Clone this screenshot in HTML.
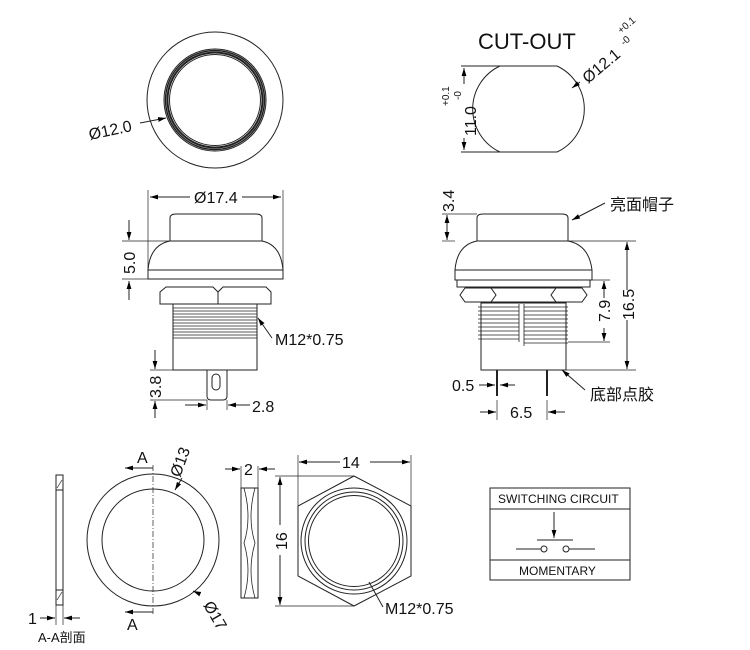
<!DOCTYPE html>
<html><head><meta charset="utf-8"><style>
html,body{margin:0;padding:0;background:#fff;}
svg{display:block;font-family:"Liberation Sans","Noto Sans CJK SC",sans-serif;}
</style></head><body>
<svg width="750" height="650" viewBox="0 0 750 650" xmlns="http://www.w3.org/2000/svg">
<defs>
<marker id="a" viewBox="0 0 10 10" refX="10" refY="5" markerWidth="8" markerHeight="8" orient="auto-start-reverse"><path d="M0,2 L10,5 L0,8 z" fill="#000"/></marker>
</defs>
<g fill="none" stroke="#222" stroke-width="1">
<circle cx="215" cy="100" r="68"/>
<circle cx="215" cy="100" r="51"/>
<circle cx="215" cy="100" r="49.5" stroke-width="1.5"/>
<circle cx="215" cy="100" r="47.5" stroke-width="2"/>
<circle cx="215" cy="100" r="45.5"/>
<line x1="140" y1="123" x2="166" y2="118" marker-end="url(#a)"/>

<path d="M500,66 L557,66 A47.5,47.5 0 0 1 557,152 L500,152 A47.5,47.5 0 0 1 500,66 Z"/>
<line x1="461" y1="66" x2="500" y2="66"/><line x1="461" y1="152" x2="500" y2="152"/>
<line x1="464" y1="68" x2="464" y2="84" marker-start="url(#a)"/>
<line x1="464" y1="138" x2="464" y2="150" marker-end="url(#a)"/>
<line x1="580" y1="82" x2="572" y2="88" marker-end="url(#a)"/>

<path d="M170,241 L170,218 Q170,214 176,214 L256,214 Q262,214 262,218 L262,241"/>
<path d="M148,270 Q150,245 170,241 L262,241 Q281,245 283,270 Z"/>
<rect x="148" y="270" width="135" height="9"/>
<path d="M160,304 L160,292 L166,287 L213,287 L218,292 L223,287 L266,287 L271,292 L271,304 Z"/>
<line x1="218" y1="292" x2="218" y2="304"/>
<rect x="173" y="304" width="84" height="66"/>
<g stroke-width="0.8">
<line x1="173" y1="308" x2="257" y2="308"/><line x1="173" y1="311" x2="257" y2="311"/><line x1="173" y1="314" x2="257" y2="314"/><line x1="173" y1="317" x2="257" y2="317"/><line x1="173" y1="320" x2="257" y2="320"/><line x1="173" y1="323" x2="257" y2="323"/><line x1="173" y1="326" x2="257" y2="326"/><line x1="173" y1="329" x2="257" y2="329"/><line x1="173" y1="332" x2="257" y2="332"/><line x1="173" y1="335" x2="257" y2="335"/><line x1="173" y1="338" x2="257" y2="338"/>
</g>
<path d="M207,370 L207,396 Q207,400 211,400 L223,400 Q227,400 227,396 L227,370"/>
<rect x="212" y="374" width="8" height="16" rx="4"/>
<line x1="148" y1="190" x2="148" y2="270" stroke-width="0.7"/><line x1="283" y1="190" x2="283" y2="270" stroke-width="0.7"/>
<line x1="150" y1="197" x2="190" y2="197" marker-start="url(#a)"/><line x1="242" y1="197" x2="281" y2="197" marker-end="url(#a)"/>
<line x1="122" y1="241" x2="170" y2="241" stroke-width="0.7"/><line x1="122" y1="279" x2="148" y2="279" stroke-width="0.7"/>
<line x1="129" y1="220" x2="129" y2="240" marker-end="url(#a)"/><line x1="129" y1="300" x2="129" y2="281" marker-end="url(#a)"/>
<line x1="150" y1="370" x2="207" y2="370" stroke-width="0.7"/><line x1="150" y1="400" x2="207" y2="400" stroke-width="0.7"/>
<line x1="155" y1="350" x2="155" y2="369" marker-end="url(#a)"/><line x1="155" y1="418" x2="155" y2="401" marker-end="url(#a)"/>
<line x1="207" y1="400" x2="207" y2="410" stroke-width="0.7"/><line x1="227" y1="400" x2="227" y2="410" stroke-width="0.7"/>
<line x1="185" y1="405" x2="206" y2="405" marker-end="url(#a)"/><line x1="250" y1="405" x2="228" y2="405" marker-end="url(#a)"/>
<line x1="272" y1="338" x2="258" y2="318" marker-end="url(#a)"/>

<path d="M477,241 L477,218 Q477,214 483,214 L562,214 Q568,214 568,218 L568,241"/>
<path d="M455,270 Q457,245 477,241 L568,241 Q589,245 592,270 Z"/>
<rect x="455" y="270" width="137" height="10"/>
<rect x="457" y="280" width="133" height="7"/>
<path d="M460,295 L465,288 L491,288 L496,295 L491,302 L465,302 Z M496,295 L491,288 L556,288 L551,295 L556,302 L491,302 M551,295 L556,288 L582,288 L587,295 L582,302 L556,302"/>
<rect x="481" y="303" width="85" height="67"/>
<g stroke-width="0.8">
<path d="M478,307 H519 M478,311 H519 M478,315 H519 M478,319 H519 M478,323 H519 M478,327 H519 M478,331 H519 M478,335 H519 M478,339 H519"/>
<path d="M524,307 H568 M524,311 H568 M524,315 H568 M524,319 H568 M524,323 H568 M524,327 H568 M524,331 H568 M524,335 H568 M524,339 H568 M524,343 H568"/>
<line x1="519" y1="304" x2="519" y2="342"/><line x1="524" y1="304" x2="524" y2="346"/>
</g>
<line x1="497" y1="370" x2="497" y2="396" stroke-width="2"/><line x1="547" y1="370" x2="547" y2="396" stroke-width="2"/>
<line x1="442" y1="214" x2="477" y2="214" stroke-width="0.7"/><line x1="442" y1="241" x2="455" y2="241" stroke-width="0.7"/>
<line x1="447" y1="215" x2="447" y2="240" marker-start="url(#a)" marker-end="url(#a)"/>
<line x1="568" y1="241" x2="636" y2="241" stroke-width="0.7"/><line x1="566" y1="370" x2="636" y2="370" stroke-width="0.7"/>
<line x1="627" y1="290" x2="627" y2="242" marker-end="url(#a)"/><line x1="627" y1="320" x2="627" y2="369" marker-end="url(#a)"/>
<line x1="580" y1="280" x2="610" y2="280" stroke-width="0.7"/><line x1="568" y1="342" x2="610" y2="342" stroke-width="0.7"/>
<line x1="604" y1="298" x2="604" y2="281" marker-end="url(#a)"/><line x1="604" y1="328" x2="604" y2="341" marker-end="url(#a)"/>
<line x1="497" y1="400" x2="497" y2="420" stroke-width="0.7"/><line x1="547" y1="400" x2="547" y2="420" stroke-width="0.7"/>
<line x1="479" y1="385" x2="495" y2="385" marker-end="url(#a)"/><line x1="515" y1="385" x2="500" y2="385" marker-end="url(#a)"/>
<line x1="480" y1="412" x2="496" y2="412" marker-end="url(#a)"/><line x1="565" y1="412" x2="548" y2="412" marker-end="url(#a)"/>
<line x1="605" y1="203" x2="572" y2="220" marker-end="url(#a)"/>
<line x1="585" y1="390" x2="562" y2="370" marker-end="url(#a)"/>

<rect x="56" y="475" width="7" height="130"/>
<line x1="56" y1="490" x2="63" y2="490"/><line x1="56" y1="590" x2="63" y2="590"/>
<line x1="57" y1="488" x2="62" y2="480" stroke-width="0.7"/><line x1="57" y1="600" x2="62" y2="592" stroke-width="0.7"/>
<line x1="56" y1="605" x2="56" y2="625" stroke-width="0.7"/><line x1="63" y1="605" x2="63" y2="625" stroke-width="0.7"/>
<line x1="40" y1="618" x2="55" y2="618" marker-end="url(#a)"/><line x1="80" y1="618" x2="64" y2="618" marker-end="url(#a)"/>
<circle cx="153" cy="540" r="66"/>
<circle cx="153" cy="540" r="51"/>
<line x1="153" y1="465" x2="153" y2="615" stroke-dasharray="6,2,1,2" stroke-width="0.7"/>
<line x1="153" y1="468" x2="125" y2="468" marker-end="url(#a)"/>
<line x1="153" y1="612" x2="125" y2="612" marker-end="url(#a)"/>
<line x1="182" y1="478" x2="175" y2="490" marker-end="url(#a)"/>
<line x1="200" y1="594" x2="193" y2="591" marker-end="url(#a)"/>
<rect x="241" y="488" width="17" height="110"/>
<path d="M244,488 Q252,518 244,543 Q252,570 244,598 M255,488 Q247,518 255,543 Q247,570 255,598" stroke-width="0.8"/>
<line x1="241" y1="466" x2="241" y2="488" stroke-width="0.7"/><line x1="258" y1="466" x2="258" y2="488" stroke-width="0.7"/>
<line x1="225" y1="469" x2="240" y2="469" marker-end="url(#a)"/><line x1="275" y1="469" x2="259" y2="469" marker-end="url(#a)"/>
<path d="M354,476 L411,506 L411,576 L354,606 L298,576 L298,506 Z"/>
<circle cx="354" cy="541" r="53"/>
<circle cx="354" cy="541" r="49"/>
<circle cx="354" cy="541" r="45.5"/>
<line x1="298" y1="455" x2="298" y2="506" stroke-width="0.7"/><line x1="411" y1="455" x2="411" y2="506" stroke-width="0.7"/>
<line x1="340" y1="462" x2="299" y2="462" marker-end="url(#a)"/><line x1="370" y1="462" x2="410" y2="462" marker-end="url(#a)"/>
<line x1="275" y1="476" x2="354" y2="476" stroke-width="0.7"/><line x1="275" y1="606" x2="354" y2="606" stroke-width="0.7"/>
<line x1="280" y1="525" x2="280" y2="477" marker-end="url(#a)"/><line x1="280" y1="555" x2="280" y2="605" marker-end="url(#a)"/>
<line x1="383" y1="607" x2="369" y2="582"/>
<rect x="490" y="488" width="140" height="92"/>
<line x1="490" y1="509" x2="630" y2="509"/><line x1="490" y1="560" x2="630" y2="560"/>
<line x1="554" y1="512" x2="554" y2="538" marker-end="url(#a)"/>
<line x1="537" y1="540" x2="573" y2="540"/>
<line x1="516" y1="549" x2="541" y2="549"/><circle cx="544" cy="549" r="3"/>
<circle cx="566" cy="549" r="3"/><line x1="569" y1="549" x2="595" y2="549"/>
</g>
<g fill="#111" font-size="16">
<text x="90" y="140" transform="rotate(-12 90 140)">Ø12.0</text>
<text x="478" y="49" font-size="22">CUT-OUT</text>
<text x="588" y="84" transform="rotate(-40 588 84)">Ø12.1</text>
<text x="621" y="34" font-size="10" transform="rotate(-40 621 34)">+0.1</text>
<text x="624" y="46" font-size="10" transform="rotate(-40 624 46)">-0</text>
<text x="476" y="136" transform="rotate(-90 476 136)">11.0</text>
<text x="449" y="106" font-size="10" transform="rotate(-90 449 106)">+0.1</text>
<text x="461" y="100" font-size="10" transform="rotate(-90 461 100)">-0</text>
<text x="194" y="203">Ø17.4</text>
<text x="135" y="274" transform="rotate(-90 135 274)">5.0</text>
<text x="161" y="398" transform="rotate(-90 161 398)">3.8</text>
<text x="252" y="412">2.8</text>
<text x="275" y="345">M12*0.75</text>
<text x="454" y="212" transform="rotate(-90 454 212)">3.4</text>
<text x="610" y="210">亮面帽子</text>
<text x="634" y="320" transform="rotate(-90 634 320)">16.5</text>
<text x="610" y="322" transform="rotate(-90 610 322)">7.9</text>
<text x="452" y="391">0.5</text>
<text x="510" y="418">6.5</text>
<text x="590" y="400">底部点胶</text>
<text x="137" y="463">A</text>
<text x="127" y="630">A</text>
<text x="180" y="478" transform="rotate(-70 180 478)">Ø13</text>
<text x="203" y="605" transform="rotate(60 203 605)">Ø17</text>
<text x="28" y="624">1</text>
<text x="38" y="642" font-size="13">A-A剖面</text>
<text x="244" y="475">2</text>
<text x="342" y="468">14</text>
<text x="287" y="550" transform="rotate(-90 287 550)">16</text>
<text x="385" y="614">M12*0.75</text>
<text x="498" y="503" font-size="12">SWITCHING CIRCUIT</text>
<text x="519" y="575" font-size="12">MOMENTARY</text>
</g>
</svg>
</body></html>
